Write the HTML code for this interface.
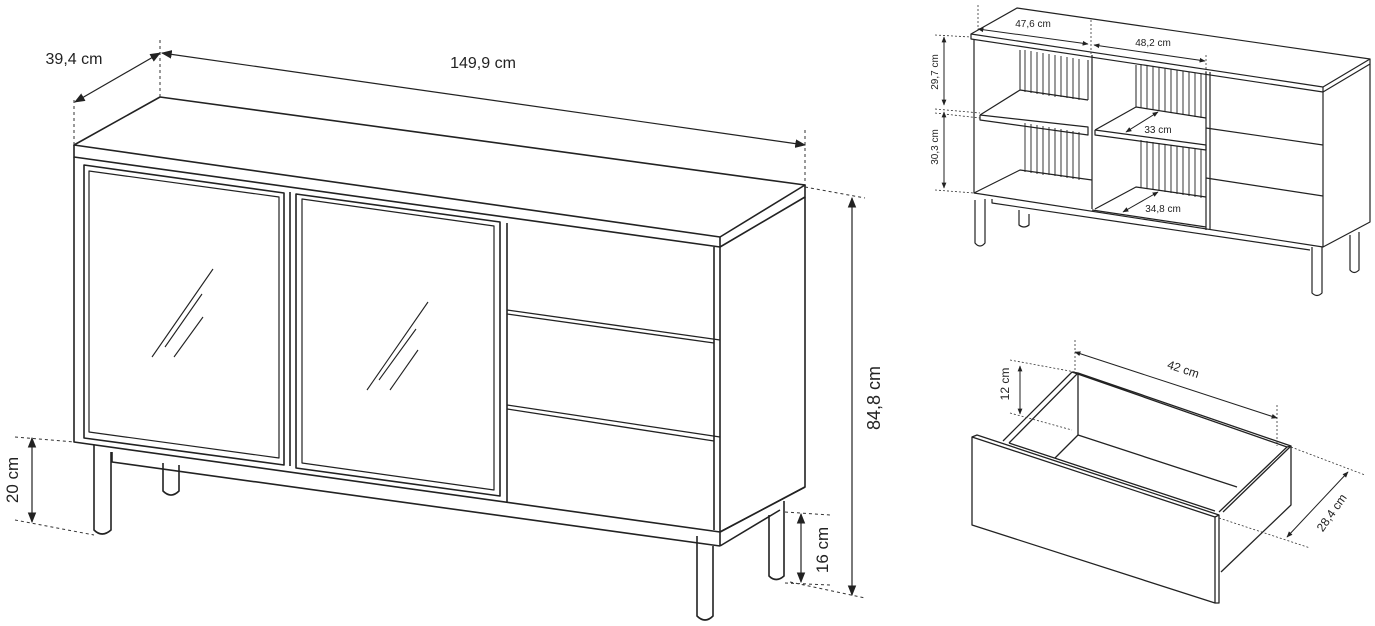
<!DOCTYPE html>
<html><head><meta charset="utf-8"><style>
html,body{margin:0;padding:0;background:#fff;}
svg{display:block;font-family:"Liberation Sans",sans-serif;}
</style></head><body>
<svg width="1375" height="626" viewBox="0 0 1375 626" xmlns="http://www.w3.org/2000/svg">
<defs>
<marker id="a" viewBox="0 0 10 10" refX="9" refY="5" markerWidth="9" markerHeight="9" orient="auto-start-reverse"><path d="M0,1 L10,5 L0,9 z" fill="#222"/></marker>
<marker id="s" viewBox="0 0 10 10" refX="9" refY="5" markerWidth="6" markerHeight="6" orient="auto-start-reverse"><path d="M0,1 L10,5 L0,9 z" fill="#222"/></marker>
</defs>
<g stroke="#222" stroke-width="1.6" fill="none" stroke-linejoin="round">
<!-- main sideboard top -->
<path d="M74,145 L160,97 L805,185 L720,237 Z"/>
<path d="M74,145 L74,157 L720,247 L720,237 M720,247 L805,197 L805,185"/>
<!-- body -->
<path d="M74,157 L74,442 L720,532 L720,247"/>
<path d="M805,197 L805,487 L720,532"/>
<path d="M714,247 L714,530"/>
<!-- doors -->
<path d="M84,165 L284,193 L284,465 L84,438 Z"/>
<path d="M89,171 L279,197 L279,458 L89,432 Z" stroke-width="1.2"/>
<path d="M296,194 L500,222 L500,496 L296,468 Z"/>
<path d="M302,199 L494,226 L494,490 L302,463 Z" stroke-width="1.2"/>
<path d="M290,192 L290,466 M507,223 L507,503"/>
<!-- glass marks -->
<path d="M152,357 L213,269 M165,347 L202,294 M174,357 L203,317" stroke-width="1.1"/>
<path d="M367,390 L428,302 M379,380 L416,329 M390,390 L418,350" stroke-width="1.1"/>
<!-- drawers -->
<path d="M507,310 L720,340 M507,405 L720,437 M507,314 L714,343 M507,409 L714,441" stroke-width="1.3"/>
<!-- plinth -->
<path d="M112,452 L112,462 L720,546 M720,532 L720,546 M720,546 L780,510 M720,532 L805,487"/>
<!-- legs -->
<path d="M94,445 L94,530 Q102,538 111,530 L111,452"/>
<path d="M163,463 L163,491 Q171,499 179,491 L179,465"/>
<path d="M697,536 L697,616 Q705,624 713,616 L713,546"/>
<path d="M769,515 L769,576 Q776,583 784,576 L784,501"/>
</g>
<!-- dimensions main -->
<g stroke="#222" stroke-width="1.2" fill="none">
<path d="M162,53 L805,145" marker-start="url(#a)" marker-end="url(#a)"/>
<path d="M75,102 L160,53" marker-start="url(#a)" marker-end="url(#a)"/>
<path d="M852,198 L852,595" marker-start="url(#a)" marker-end="url(#a)"/>
<path d="M801,514 L801,582" marker-start="url(#a)" marker-end="url(#a)"/>
<path d="M32,438 L32,522" marker-start="url(#a)" marker-end="url(#a)"/>
</g>
<g stroke="#333" stroke-width="1" stroke-dasharray="3,3" fill="none">
<path d="M160,40 L160,97 M74,100 L74,145 M805,130 L805,185 M805,187 L865,198 M790,582 L865,598 M785,512 L830,515 M785,583 L830,585 M15,437 L74,442 M15,520 L94,535"/>
</g>
<g fill="#222" font-size="16">
<text x="483" y="68" text-anchor="middle">149,9 cm</text>
<text x="74" y="64" text-anchor="middle">39,4 cm</text>
<text transform="translate(880,398) rotate(-90)" text-anchor="middle" font-size="18">84,8 cm</text>
<text transform="translate(828,550) rotate(-90)" text-anchor="middle" font-size="17">16 cm</text>
<text transform="translate(18,480) rotate(-90)" text-anchor="middle" font-size="17">20 cm</text>
</g>

<!-- top right sideboard -->
<g stroke="#222" stroke-width="1.2" fill="none" stroke-linejoin="round">
<path d="M971,34 L1017,8 L1370,59 L1323,87 Z"/>
<path d="M971,34 L971,39 L1323,92 L1323,87 M1323,92 L1370,64 L1370,59"/>
<path d="M974,40 L974,193 L1323,247 L1323,92 M1370,64 L1370,222 L1323,247"/>
<path d="M1092,55 L1092,209 M1206,72 L1206,230 M1210,72 L1210,230"/>
<path d="M1206,128 L1323,145 M1206,178 L1323,196"/>
<path d="M974,193 L1020,170 L1092,180 M1095,209 L1136,187 L1206,197 M1092,210 L1206,227"/>
<path d="M980,115 L1020,90 L1088,100 M980,115 L980,120 L1088,135 L1088,127 L980,115"/>
<path d="M1095,130 L1136,107 L1206,118 M1095,130 L1095,135 L1206,150 L1206,145 L1095,130"/>
<path d="M1020,50 L1020,90 M1088,60 L1088,100 M1136,65 L1136,107 M1206,75 L1206,118" stroke-width="1"/>
<g stroke-width="0.9">
<path d="M1025,50 V92 M1031,51 V93 M1037,52 V94 M1043,53 V95 M1049,54 V96 M1055,55 V97 M1061,56 V97 M1067,57 V98 M1073,58 V99 M1079,59 V100"/>
<path d="M1025,123 V172 M1031,124 V173 M1037,125 V174 M1043,126 V175 M1049,127 V175 M1055,128 V176 M1061,129 V177 M1067,130 V178 M1073,131 V179 M1079,132 V180"/>
<path d="M1141,64 V108 M1147,65 V109 M1153,66 V110 M1159,67 V111 M1165,68 V112 M1171,69 V113 M1177,70 V114 M1183,71 V115 M1189,72 V116 M1195,73 V117 M1201,74 V118"/>
<path d="M1141,140 V188 M1147,141 V189 M1153,142 V190 M1159,143 V191 M1165,144 V192 M1171,145 V193 M1177,146 V194 M1183,147 V195 M1189,148 V196 M1195,149 V197 M1201,150 V198"/>
</g>
<path d="M975,200 L975,243 Q980,249 985,243 L985,199"/>
<path d="M1019,210 L1019,225 Q1024,229 1029,225 L1029,214"/>
<path d="M1312,247 L1312,293 Q1317,298 1322,293 L1322,247"/>
<path d="M1350,235 L1350,270 Q1354,275 1359,270 L1359,232"/>
<path d="M992,199 L992,203 L1310,250"/>
</g>
<g stroke="#222" stroke-width="1" fill="none">
<path d="M978,29 L1088,44" marker-start="url(#s)" marker-end="url(#s)"/>
<path d="M1094,45 L1205,61" marker-start="url(#s)" marker-end="url(#s)"/>
<path d="M944,37 L944,105" marker-start="url(#s)" marker-end="url(#s)"/>
<path d="M944,112 L944,188" marker-start="url(#s)" marker-end="url(#s)"/>
<path d="M1126,132 L1158,112" marker-start="url(#s)" marker-end="url(#s)"/>
<path d="M1123,212 L1158,192" marker-start="url(#s)" marker-end="url(#s)"/>
</g>
<g stroke="#333" stroke-width="0.8" stroke-dasharray="2,2" fill="none">
<path d="M978,5 L978,30 M1091,20 L1091,55 M1206,55 L1206,72 M935,35 L971,37 M935,109 L980,113 M935,113 L980,118 M935,190 L974,193"/>
</g>
<g fill="#222" font-size="10">
<text x="1033" y="27" text-anchor="middle">47,6 cm</text>
<text x="1153" y="46" text-anchor="middle">48,2 cm</text>
<text x="1158" y="133" text-anchor="middle">33 cm</text>
<text x="1163" y="212" text-anchor="middle">34,8 cm</text>
<text transform="translate(938,72) rotate(-90)" text-anchor="middle">29,7 cm</text>
<text transform="translate(938,147) rotate(-90)" text-anchor="middle">30,3 cm</text>
</g>

<!-- drawer -->
<g stroke="#222" stroke-width="1.3" fill="none" stroke-linejoin="round">
<path d="M972,437 L1215,517 L1215,603 L972,525 Z"/>
<path d="M972,437 L977,435 L1219,515 L1219,603 L1215,603"/>
<path d="M1215,517 L1219,515"/>
<path d="M1003,441 L1072,372 L1078,373 L1009,443"/>
<path d="M1078,373 L1291,446 L1287,447 L1072,372"/>
<path d="M1078,373 L1078,435 L1055,458"/>
<path d="M1078,435 L1237,487"/>
<path d="M1287,447 L1219,512 M1291,446 L1223,512"/>
<path d="M1291,446 L1291,505 L1221,572"/>
<path d="M1009,443 L1215,511"/>
</g>
<g stroke="#222" stroke-width="1" fill="none">
<path d="M1075,352 L1277,418" marker-start="url(#s)" marker-end="url(#s)"/>
<path d="M1020,366 L1020,414" marker-start="url(#s)" marker-end="url(#s)"/>
<path d="M1287,537 L1348,472" marker-start="url(#s)" marker-end="url(#s)"/>
</g>
<g stroke="#333" stroke-width="0.8" stroke-dasharray="2,2" fill="none">
<path d="M1075,340 L1075,372 M1277,405 L1277,446 M1010,360 L1075,372 M1010,413 L1072,430 M1291,447 L1365,475 M1219,518 L1310,548"/>
</g>
<g fill="#222" font-size="12">
<text transform="translate(1182,373) rotate(18)" text-anchor="middle">42 cm</text>
<text transform="translate(1009,384) rotate(-90)" text-anchor="middle">12 cm</text>
<text transform="translate(1335,515) rotate(-55)" text-anchor="middle">28,4 cm</text>
</g>
</svg>
</body></html>
